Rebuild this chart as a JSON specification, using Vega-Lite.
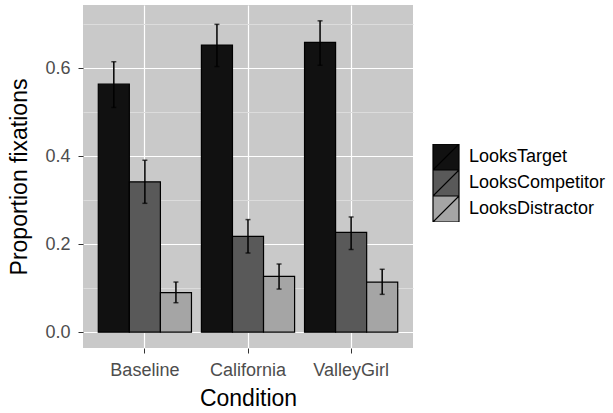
{
  "$schema": "https://vega.github.io/schema/vega-lite/v6.json",
  "width": 330,
  "height": 343,
  "autosize": {"type": "none"},
  "padding": {"left": 83, "top": 5, "right": 200, "bottom": 65},
  "background": "white",
  "config": {
    "font": "Liberation Sans",
    "view": {"fill": "#C9C9C9", "stroke": null},
    "axis": {"domain": false, "gridColor": "white", "gridWidth": 1.2, "tickColor": "#333333", "labelColor": "#4D4D4D", "titleColor": "black", "titleFontWeight": "normal"}
  },
  "data": {
    "values": [
      {"Condition": "Baseline", "Measure": "LooksTarget", "mean": 0.564, "lo": 0.511, "hi": 0.615},
      {"Condition": "Baseline", "Measure": "LooksCompetitor", "mean": 0.342, "lo": 0.293, "hi": 0.391},
      {"Condition": "Baseline", "Measure": "LooksDistractor", "mean": 0.090, "lo": 0.067, "hi": 0.114},
      {"Condition": "California", "Measure": "LooksTarget", "mean": 0.653, "lo": 0.604, "hi": 0.700},
      {"Condition": "California", "Measure": "LooksCompetitor", "mean": 0.218, "lo": 0.180, "hi": 0.256},
      {"Condition": "California", "Measure": "LooksDistractor", "mean": 0.127, "lo": 0.098, "hi": 0.155},
      {"Condition": "ValleyGirl", "Measure": "LooksTarget", "mean": 0.659, "lo": 0.607, "hi": 0.708},
      {"Condition": "ValleyGirl", "Measure": "LooksCompetitor", "mean": 0.227, "lo": 0.188, "hi": 0.262},
      {"Condition": "ValleyGirl", "Measure": "LooksDistractor", "mean": 0.114, "lo": 0.086, "hi": 0.143}
    ]
  },
  "encoding": {
    "x": {
      "field": "Condition", "type": "nominal",
      "scale": {"paddingInner": 0, "paddingOuter": 0.1},
      "axis": {"labelAngle": 0, "labelFontSize": 18, "tickSize": 5, "labelPadding": 8, "title": "Condition", "titleFontSize": 23, "titlePadding": 8, "grid": true, "gridWidth": 1.2}
    },
    "xOffset": {
      "field": "Measure", "type": "nominal",
      "sort": ["LooksTarget", "LooksCompetitor", "LooksDistractor"],
      "scale": {"paddingInner": 0, "paddingOuter": 0.16}
    }
  },
  "layer": [
    {
      "mark": {"type": "rule", "opacity": 0},
      "encoding": {
        "y": {
          "field": "mean", "type": "quantitative",
          "scale": {"domain": [-0.036, 0.744], "nice": false, "zero": false},
          "axis": {"values": [0.1, 0.3, 0.5, 0.7], "labels": false, "ticks": false, "grid": true, "gridColor": "#DCDCDC", "gridWidth": 1, "title": null, "orient": "right"}
        }
      }
    },
    {
      "mark": {"type": "bar", "stroke": "black", "strokeWidth": 1.2},
      "encoding": {
        "y": {
          "field": "mean", "type": "quantitative",
          "axis": {"values": [0, 0.2, 0.4, 0.6], "format": ".1f", "labelFontSize": 18, "tickSize": 5, "labelPadding": 8, "title": "Proportion fixations", "titleFontSize": 23, "titlePadding": 13, "grid": true, "orient": "left"}
        },
        "fill": {
          "field": "Measure", "type": "nominal",
          "sort": ["LooksTarget", "LooksCompetitor", "LooksDistractor"],
          "scale": {"range": ["#111111", "#595959", "#A5A5A5"]},
          "legend": {
            "title": null, "orient": "none", "legendX": 349, "legendY": 139,
            "symbolType": "M-1,-1H1V1H-1Z M-1,1L1,-1", "symbolSize": 676, "symbolStrokeColor": "black", "symbolStrokeWidth": 1.2,
            "labelFontSize": 18, "labelColor": "black", "labelOffset": 9, "rowPadding": 0, "clipHeight": 26
          }
        }
      }
    },
    {
      "mark": {"type": "rule", "color": "black", "strokeWidth": 1.5},
      "encoding": {
        "y": {"field": "lo", "type": "quantitative", "axis": null},
        "y2": {"field": "hi"}
      }
    },
    {
      "mark": {"type": "tick", "color": "black", "size": 5, "thickness": 1.5},
      "encoding": {"y": {"field": "lo", "type": "quantitative", "axis": null}}
    },
    {
      "mark": {"type": "tick", "color": "black", "size": 5, "thickness": 1.5},
      "encoding": {"y": {"field": "hi", "type": "quantitative", "axis": null}}
    }
  ],
  "resolve": {"axis": {"y": "independent"}}
}
